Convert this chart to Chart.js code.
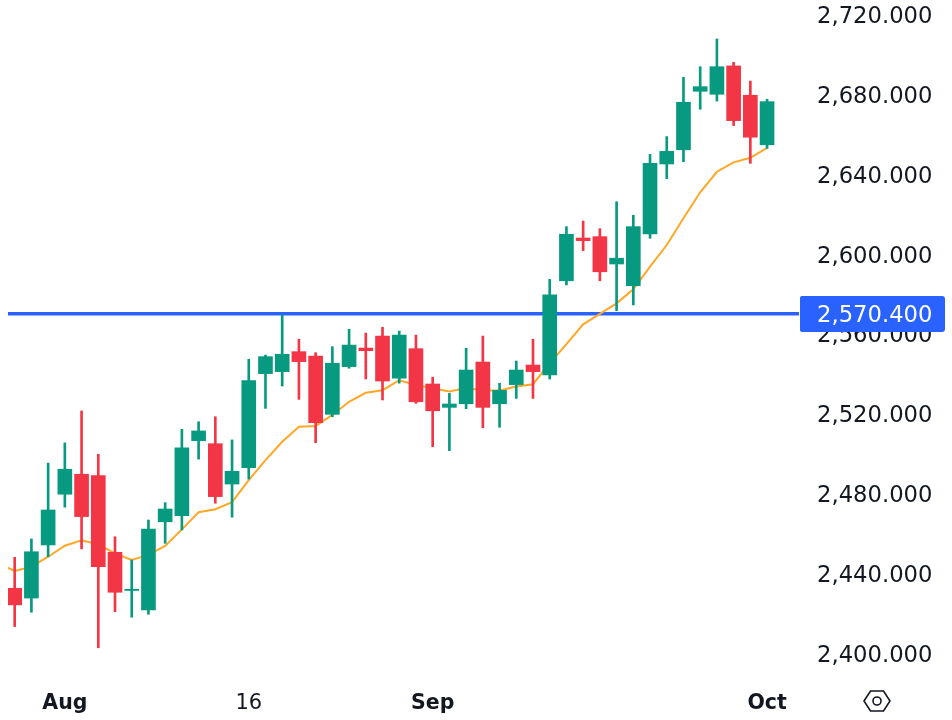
<!DOCTYPE html>
<html>
<head>
<meta charset="utf-8">
<style>
  html, body { margin: 0; padding: 0; background: #fff; }
  canvas { display: block; }
</style>
<script src="https://cdn.jsdelivr.net/npm/chart.js@4/dist/chart.umd.js"></script>
</head>
<body>
<canvas id="chart" width="952" height="720"></canvas>
<script>
  const opens = [2432.9, 2428, 2454.6, 2480, 2490, 2489.3, 2450.9, 2431.8, 2422, 2466.2, 2469.3, 2506.8, 2505.3, 2485.1, 2493.3, 2540.4, 2541.4, 2551.4, 2549.2, 2520, 2543.9, 2553.2, 2559.2, 2538.1, 2552.9, 2535.2, 2523.5, 2525.3, 2546.2, 2525.3, 2534.9, 2544.7, 2539.7, 2586.9, 2608.3, 2609, 2595.3, 2584.4, 2610.3, 2645.4, 2652.5, 2681.8, 2680.3, 2694.5, 2679.8, 2655];
  const highs = [2448.4, 2457.6, 2495.6, 2505.7, 2521.7, 2500, 2458.7, 2447.1, 2467.1, 2475.8, 2512.5, 2516.3, 2518.8, 2507.2, 2547.6, 2549.7, 2569.8, 2557.6, 2550.9, 2553.9, 2562.6, 2560.7, 2563.6, 2561.7, 2559.7, 2538.6, 2530.5, 2553.1, 2559.2, 2535.6, 2546.7, 2557.6, 2587.6, 2614, 2616.8, 2613, 2626.5, 2619.7, 2650.2, 2659.1, 2688.8, 2694.1, 2708, 2696.3, 2686.9, 2677.8];
  const lows = [2413.7, 2420.9, 2448.7, 2473.5, 2452.6, 2403.1, 2421.2, 2418.4, 2419.9, 2455.4, 2462.1, 2497.6, 2475.5, 2468.5, 2487.6, 2523, 2534.2, 2527.5, 2505.8, 2518.8, 2543.1, 2537.7, 2527.2, 2535.6, 2525.5, 2503.8, 2501.8, 2522.8, 2513.3, 2513.5, 2528, 2528, 2537.7, 2584.8, 2602, 2586.9, 2571.9, 2574.8, 2608.2, 2638, 2646.5, 2672.8, 2676.9, 2664.6, 2645.7, 2653.2];
  const closes = [2424.6, 2451.2, 2472.1, 2492.5, 2468.8, 2443.7, 2430.9, 2432.4, 2462.6, 2472.6, 2503.2, 2511.7, 2478.8, 2491.5, 2536.9, 2548.9, 2550.1, 2546.4, 2515.8, 2545.6, 2554.7, 2551.9, 2536.7, 2559.7, 2526.3, 2521.8, 2525.2, 2542.2, 2523.5, 2532, 2542.2, 2541.4, 2579.8, 2610.2, 2607, 2591.4, 2598.2, 2614, 2645.7, 2651.7, 2676.3, 2684.1, 2694.1, 2667.1, 2658.8, 2676.6];
  // moving average, starts one session before the first visible candle
  const maValues = [2445.3, 2441.6, 2443.7, 2448.7, 2454.2, 2456.9, 2454.9, 2450.4, 2447.1, 2449.6, 2454.1, 2462.4, 2471, 2472.5, 2476, 2487.1, 2497.1, 2506.3, 2513.8, 2514.2, 2519.7, 2526.3, 2530.8, 2532.1, 2537.1, 2534.7, 2533.1, 2531.5, 2533.2, 2531.9, 2531.9, 2533.9, 2535.1, 2545.6, 2555.2, 2565.1, 2570.3, 2575.6, 2582.6, 2594, 2604.8, 2618.2, 2631.2, 2641.5, 2646.2, 2648.5, 2653.5];
  const xTickIndex = [3, 14, 25, 45];
  const xTickLabels = ["Aug", "16", "Sep", "Oct"];
  const xTickBold = [true, false, true, true];
  const yTicks = [2400, 2440, 2480, 2520, 2560, 2600, 2640, 2680, 2720];
  const priceLine = 2570.4;

  const UP = "#089981";
  const DOWN = "#f23645";
  const BLUE = "#2962ff";
  const TEXT = "#131722";
  const FONT = '"DejaVu Sans", sans-serif';
  const X_MIN = -0.4;
  const X_MAX = 46.91;

  const fmt = (v) =>
    v.toLocaleString("en-US", { minimumFractionDigits: 3, maximumFractionDigits: 3 });
  const candleColors = closes.map((c, i) => (c >= opens[i] ? UP : DOWN));

  // price tag and the little settings icon, drawn after the axes
  const overlay = {
    id: "overlay",
    afterDraw(chart) {
      const { ctx, chartArea, scales } = chart;
      const y = scales.y.getPixelForValue(priceLine);
      ctx.save();
      ctx.fillStyle = BLUE;
      ctx.beginPath();
      ctx.roundRect(chartArea.right + 1, Math.round(y) - 18, 145, 36, [2, 3, 3, 2]);
      ctx.fill();
      ctx.fillStyle = "#fff";
      ctx.font = "22.7px " + FONT;
      ctx.textAlign = "left";
      ctx.textBaseline = "middle";
      ctx.fillText(fmt(priceLine), chartArea.right + 18, y + 2);

      const cx = chartArea.right + 78;
      const cy = 701;
      ctx.strokeStyle = TEXT;
      ctx.lineWidth = 1.6;
      ctx.beginPath();
      ctx.moveTo(cx - 13, cy);
      ctx.lineTo(cx - 6.5, cy - 10);
      ctx.lineTo(cx + 6.5, cy - 10);
      ctx.lineTo(cx + 13, cy);
      ctx.lineTo(cx + 6.5, cy + 10);
      ctx.lineTo(cx - 6.5, cy + 10);
      ctx.closePath();
      ctx.stroke();
      ctx.beginPath();
      ctx.arc(cx, cy, 4, 0, Math.PI * 2);
      ctx.stroke();
      ctx.restore();
    },
  };

  new Chart(document.getElementById("chart").getContext("2d"), {
    type: "bar",
    plugins: [overlay],
    data: {
      datasets: [
        {
          label: "Body",
          order: 1,
          data: closes.map((c, i) => ({ x: i, y: [opens[i], c] })),
          backgroundColor: candleColors,
          barThickness: 14,
          borderWidth: 0,
          borderSkipped: false,
        },
        {
          label: "Wick",
          order: 2,
          data: highs.map((h, i) => ({ x: i, y: [lows[i], h] })),
          backgroundColor: candleColors,
          barThickness: 2,
          borderWidth: 0,
          borderSkipped: false,
        },
        {
          type: "line",
          label: "MA",
          order: 3,
          data: maValues.map((v, i) => ({ x: i - 1, y: v })),
          borderColor: "#ffa726",
          borderWidth: 2,
          tension: 0,
          pointRadius: 0,
        },
        {
          type: "line",
          label: "Price",
          order: 4,
          data: [
            { x: X_MIN, y: priceLine },
            { x: X_MAX, y: priceLine },
          ],
          borderColor: BLUE,
          borderWidth: 3.5,
          pointRadius: 0,
        },
      ],
    },
    options: {
      responsive: false,
      animation: false,
      layout: { padding: { left: 8, top: 0, right: 0, bottom: 0 } },
      plugins: { legend: { display: false }, tooltip: { enabled: false } },
      datasets: { bar: { grouped: false } },
      scales: {
        x: {
          type: "linear",
          offset: false,
          min: X_MIN,
          max: X_MAX,
          grid: { display: false, drawTicks: false, offset: false },
          border: { display: false },
          afterBuildTicks: (s) => {
            s.ticks = xTickIndex.map((v) => ({ value: v }));
          },
          afterFit: (s) => {
            s.height = 35;
            s.paddingLeft = 0;
            s.paddingRight = 0;
          },
          ticks: {
            autoSkip: false,
            maxRotation: 0,
            padding: 6,
            color: TEXT,
            font: (c) => ({
              family: FONT,
              size: xTickBold[c.index] ? 20.5 : 21,
              weight: xTickBold[c.index] ? "bold" : "normal",
            }),
            callback: (v) => xTickLabels[xTickIndex.indexOf(v)],
          },
        },
        y: {
          position: "right",
          min: 2384.46,
          max: 2727.51,
          grid: { display: false, drawTicks: false },
          border: { display: false },
          afterBuildTicks: (s) => {
            s.ticks = yTicks.map((v) => ({ value: v }));
          },
          afterFit: (s) => {
            s.width = 153;
            s.paddingTop = 0;
            s.paddingBottom = 0;
          },
          ticks: {
            padding: 18,
            labelOffset: 2,
            color: TEXT,
            font: { family: FONT, size: 22.7 },
            callback: (v) => fmt(v),
          },
        },
      },
    },
  });
</script>
</body>
</html>
